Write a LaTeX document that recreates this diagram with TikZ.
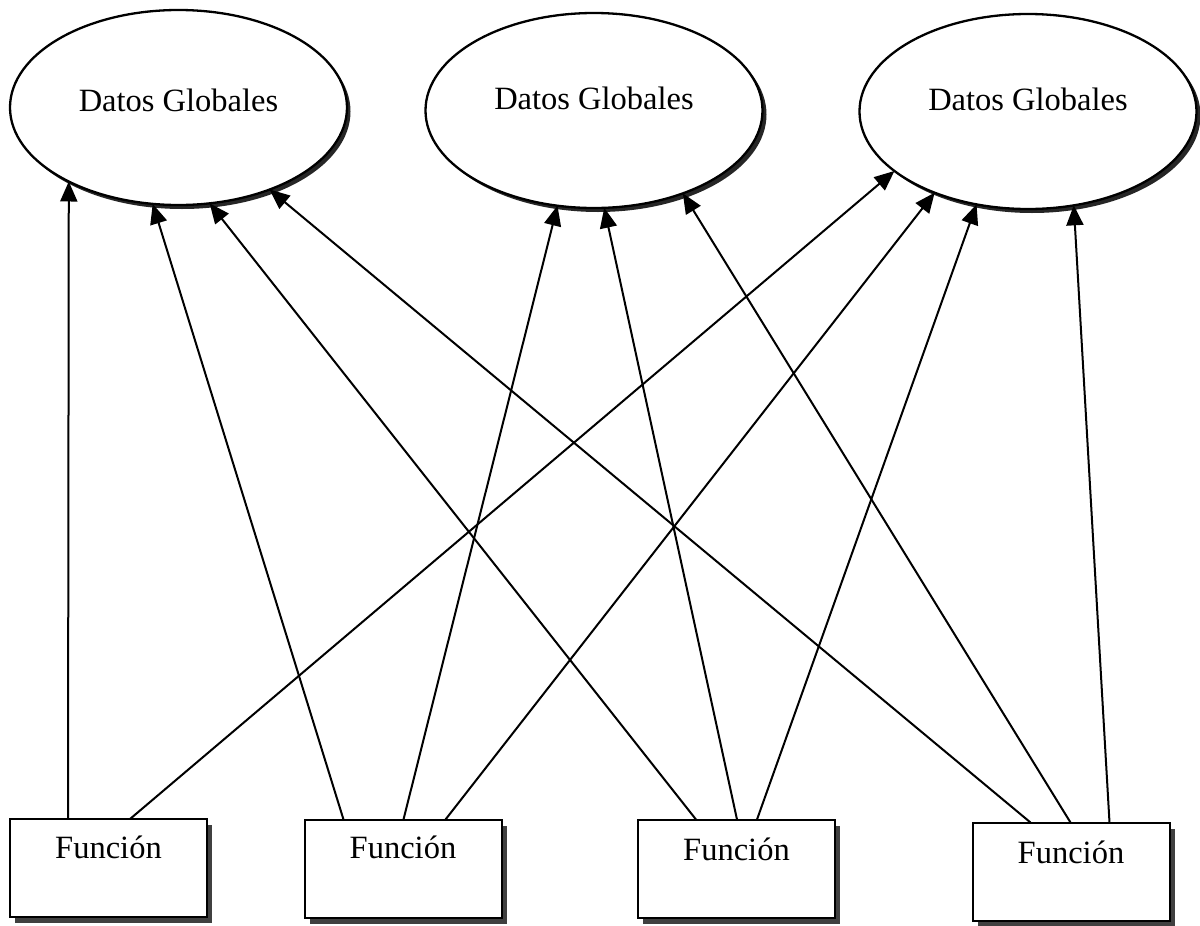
\documentclass[tikz,border=0pt]{standalone}
\usepackage{fontspec}
\setmainfont{Liberation Serif}
\usetikzlibrary{shapes.geometric,arrows.meta,calc}
\begin{document}
\begin{tikzpicture}[x=1pt,y=-1pt,
  datos/.style={ellipse,draw,line width=2.3pt,fill=white,inner sep=0pt,outer sep=0pt,
    minimum width=337pt,minimum height=195pt},
  datoshadow/.style={ellipse,fill=black!85,inner sep=0pt,outer sep=0pt,
    minimum width=337pt,minimum height=195pt},
  funcbox/.style={rectangle,draw,line width=2pt,fill=white,inner sep=0pt,outer sep=0pt,
    minimum width=197pt,minimum height=98pt},
  funcshadow/.style={rectangle,fill=black!75,inner sep=0pt,outer sep=0pt,
    minimum width=197pt,minimum height=98pt},
  txt/.style={font=\fontsize{32.5}{38}\selectfont},
  link/.style={line width=2pt,-{Triangle[length=20pt,width=17pt]}}]
\useasboundingbox (0,0) rectangle (1200,926);
\fill[white] (0,0) rectangle (1200,926);

% drop shadows
\node[datoshadow] at (182,111.5) {};
\node[datoshadow] at (598,114.5) {};
\node[datoshadow] at (1032,115.5) {};
\node[funcshadow] at (113.5,874) {};
\node[funcshadow] at (408,874.5) {};
\node[funcshadow] at (741.5,874.5) {};
\node[funcshadow] at (1076,877.5) {};

% global data stores
\node[datos,label={[txt,yshift=7pt]center:Datos Globales}] (e1) at (178.5,107.5) {};
\node[datos,label={[txt,yshift=12pt]center:Datos Globales}] (e2) at (594,110.5) {};
\node[datos,label={[txt,yshift=12pt]center:Datos Globales}] (e3) at (1028,111.5) {};

% functions
\node[funcbox,label={[txt,yshift=21pt]center:Función}] (b1) at (108.5,868) {};
\node[funcbox,label={[txt,yshift=21pt]center:Función}] (b2) at (403,868.5) {};
\node[funcbox,label={[txt,yshift=19pt]center:Función}] (b3) at (736.5,868.5) {};
\node[funcbox,label={[txt,yshift=19pt]center:Función}] (b4) at (1071,871.5) {};

% every function reaches every global data store
\draw[link] ($(b1.north west)+(58,0)$)  -- (e1.214.5);
\draw[link] ($(b1.north west)+(120,0)$) -- (e3.204);

\draw[link] ($(b2.north west)+(39,0)$)  -- (e1.255);
\draw[link] ($(b2.north west)+(99,0)$)  -- (e2.249);
\draw[link] ($(b2.north west)+(141,0)$) -- (e3.221);

\draw[link] ($(b3.north west)+(58,0)$)  -- (e1.288);
\draw[link] ($(b3.north west)+(99,0)$)  -- (e2.276);
\draw[link] ($(b3.north west)+(119,0)$) -- (e3.241);

\draw[link] ($(b4.north west)+(58,0)$)  -- (e1.318);
\draw[link] ($(b4.north west)+(98,0)$)  -- (e2.317);
\draw[link] ($(b4.north west)+(137,0)$) -- (e3.296);
\end{tikzpicture}
\end{document}
